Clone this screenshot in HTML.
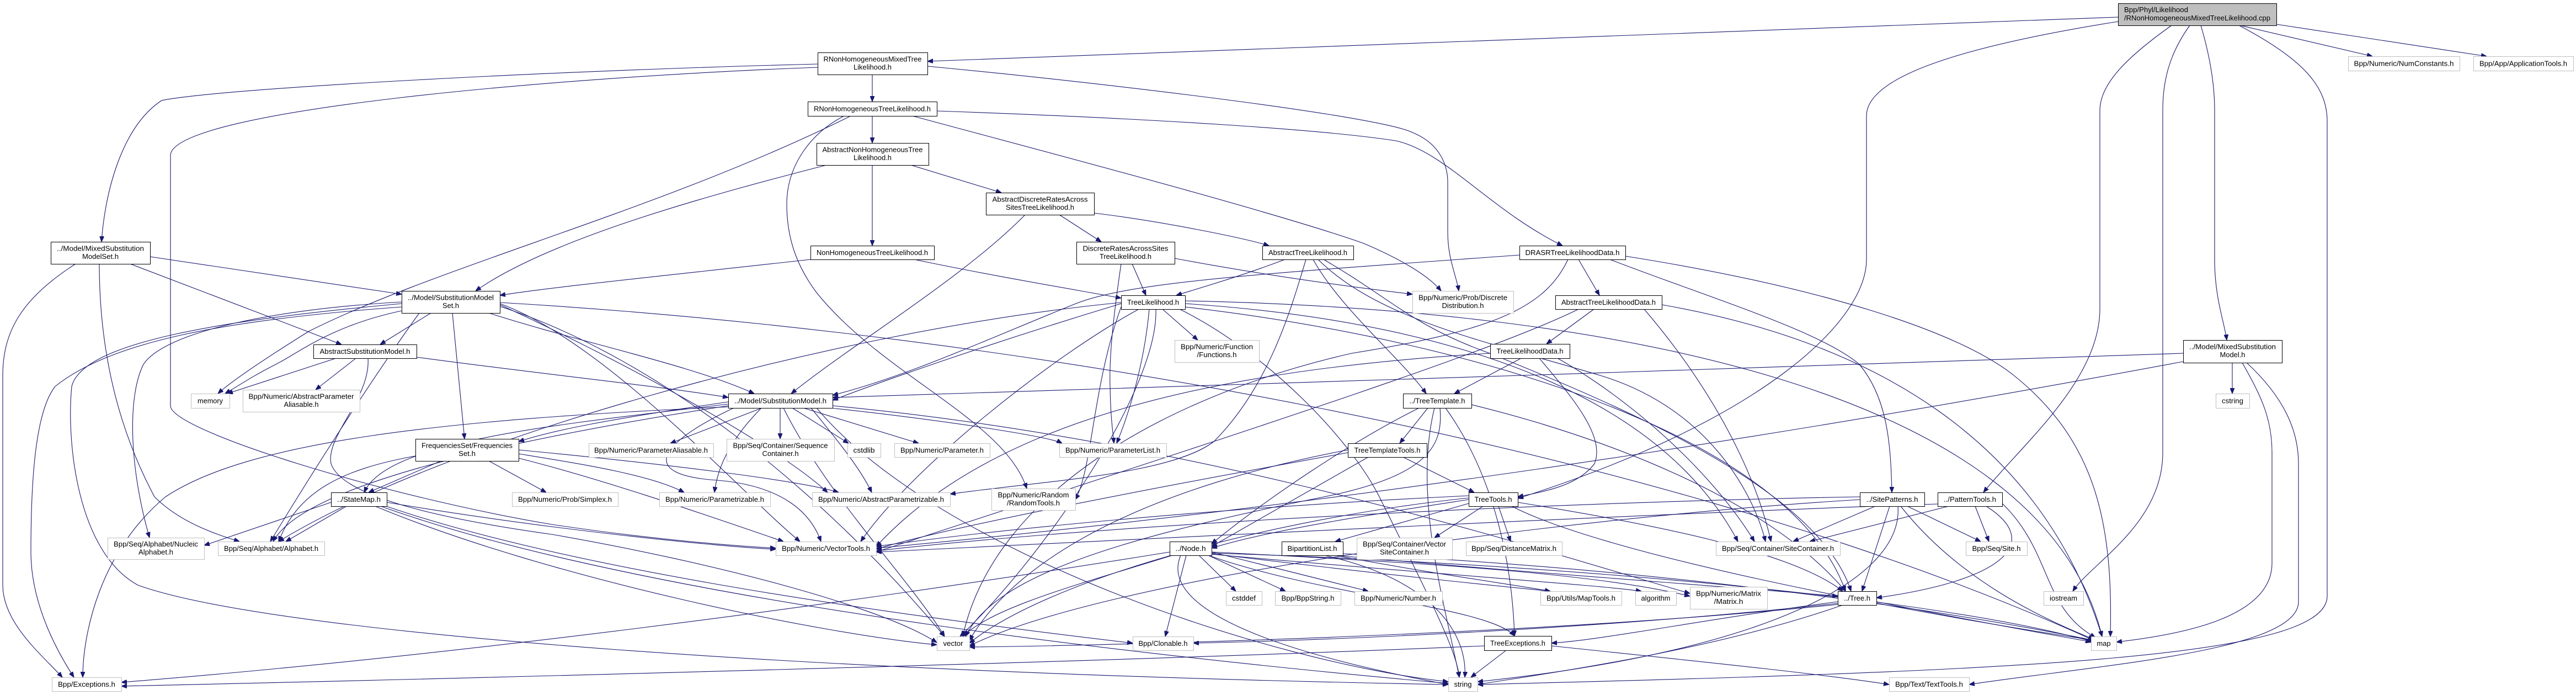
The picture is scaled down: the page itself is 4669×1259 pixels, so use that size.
<!DOCTYPE html>
<html>
<head>
<meta charset="utf-8">
<style>
html,body{margin:0;padding:0;background:#fff;}
svg{display:block;}
.n{fill:#fff;stroke:#000;stroke-width:1;}
.g{fill:#fff;stroke:#bfbfbf;stroke-width:1;}
.m{fill:#bfbfbf;stroke:#000;stroke-width:1;}
text{font-family:"Liberation Sans",Arial,sans-serif;font-size:13px;fill:#000;}
</style>
</head>
<body>
<svg width="4669" height="1259" viewBox="0 0 4669 1259" xmlns="http://www.w3.org/2000/svg">
<defs>
<marker id="ah" viewBox="0 0 10 8" refX="10" refY="4" markerWidth="10" markerHeight="8" markerUnits="userSpaceOnUse" orient="auto">
<path d="M0,0L10,4L0,8z" fill="#191970" stroke="#191970" stroke-width="1"/>
</marker>
</defs>
<g fill="none" stroke="#191970" stroke-width="1.1" marker-end="url(#ah)">
<!-- A main -->
<path d="M3839,31 C3200,55 2300,88 1681,111"/>
<path d="M3839,39 C3550,85 3383,140 3383,210 L3383,470 C3383,580 3200,760 2751,903"/>
<path d="M3936,46 C3860,100 3806,150 3806,200 L3806,560 C3806,690 3660,810 3595,892"/>
<path d="M3969,46 C3930,100 3920,150 3920,200 L3920,820 C3920,950 3790,1020 3757,1071"/>
<path d="M3989,46 C4005,100 4014,150 4014,200 L4014,470 C4014,540 4032,585 4036,616"/>
<path d="M4058,46 C4180,110 4218,160 4218,220 L4218,1080 C4218,1190 3700,1215 2678,1240"/>
<path d="M4060,46 L4300,102"/>
<path d="M4126,44 L4507,102"/>
<!-- O -->
<path d="M4046,657 L4046,713"/>
<path d="M4064,657 C4100,720 4118,760 4118,820 L4118,1020 C4118,1120 3950,1150 3836,1163"/>
<path d="M4072,657 C4140,720 4166,780 4166,840 L4166,1090 C4166,1180 3800,1205 3569,1240"/>
<path d="M3957,640 C3200,665 2200,700 1509,720"/>
<path d="M3957,655 C3500,740 2600,900 1588,993"/>
<!-- B -->
<path d="M1581,135 L1581,184"/>
<path d="M1482,116 C1000,128 400,160 293,182 C220,230 190,350 184,438"/>
<path d="M1482,122 C1000,140 320,200 309,280 L309,735 C309,780 700,900 1000,950 C1200,980 1350,990 1406,993"/>
<path d="M1681,120 C2000,150 2500,210 2560,240 C2610,260 2624,300 2624,330 L2624,420 C2624,470 2640,500 2644,527"/>
<!-- C -->
<path d="M1581,210 L1581,259"/>
<path d="M1542,210 C1200,380 800,480 560,600 C480,650 420,690 395,713"/>
<path d="M1698,201 C2100,215 2400,235 2530,255 C2620,275 2700,380 2832,445"/>
<path d="M1654,210 C1800,250 2300,380 2472,441 C2540,470 2590,500 2612,527"/>
<path d="M1530,210 C1470,240 1426,300 1426,370 C1426,440 1450,490 1480,530 C1600,680 1820,760 1861,885"/>
<!-- D -->
<path d="M1581,299 L1581,445"/>
<path d="M1651,299 L1815,349"/>
<path d="M1498,299 C1300,350 1000,430 862,527"/>
<!-- E -->
<path d="M1920,389 L1996,438"/>
<path d="M1858,389 C1750,500 1550,620 1434,713"/>
<path d="M1983,386 C2100,400 2250,430 2300,445"/>
<!-- F -->
<path d="M1469,470 C1200,500 1000,520 906,535"/>
<path d="M1657,470 C1800,500 1950,525 2032,540"/>
<!-- G -->
<path d="M2052,478 L2077,535"/>
<path d="M2032,478 C2020,560 2010,640 2012,700 C2013,760 2017,780 2019,803"/>
<path d="M2129,468 C2300,500 2450,520 2560,533"/>
<!-- H -->
<path d="M2329,470 C2250,500 2180,520 2132,535"/>
<path d="M2380,470 C2430,560 2540,650 2585,713"/>
<path d="M2367,470 C2340,560 2300,700 2200,800 C2120,860 1900,870 1722,895"/>
<path d="M2389,470 C2500,580 2700,620 2900,680 C3100,740 3180,900 3200,981"/>
<path d="M2399,470 C2520,540 2560,590 2700,640 C3000,760 3300,900 3355,1071"/>
<!-- I -->
<path d="M2861,470 L2899,535"/>
<path d="M2754,462 C2300,495 2050,510 1950,550 C1800,610 1650,680 1509,716"/>
<path d="M2918,470 C3100,540 3300,600 3370,660 C3420,720 3427,800 3429,892"/>
<path d="M2946,464 C3300,520 3550,600 3650,680 C3800,800 3830,950 3825,1153"/>
<path d="M2842,470 C2800,560 2700,600 2450,640 C2100,720 1800,900 1745,1153"/>
<!-- J -->
<path d="M272,465 L728,533"/>
<path d="M236,478 L619,624"/>
<path d="M137,478 C40,540 5,600 5,680 L5,1060 C5,1130 80,1190 113,1227"/>
<path d="M180,478 C180,600 200,750 280,900 C330,950 400,970 434,981"/>
<!-- K -->
<path d="M781,567 L689,624"/>
<path d="M728,563 C600,590 540,640 500,660 C460,680 430,700 408,713"/>
<path d="M820,567 L842,795"/>
<path d="M886,567 C1050,620 1250,660 1367,713"/>
<path d="M728,547 C500,560 300,600 260,660 C230,720 235,850 271,974"/>
<path d="M728,550 C400,580 150,620 130,700 C120,800 140,1000 250,1060 C500,1150 1500,1220 2625,1240"/>
<path d="M760,567 C700,650 600,800 490,981"/>
<path d="M728,556 C400,580 200,620 100,700 C60,750 56,900 56,1000 C56,1100 110,1190 134,1227"/>
<path d="M906,550 C1100,620 1350,900 1450,981"/>
<path d="M906,555 C1200,650 1500,900 1712,1153"/>
<path d="M906,548 C1800,600 3000,800 3795,1160"/>
<path d="M906,552 C1100,640 1400,800 1500,892"/>
<!-- L -->
<path d="M2032,550 C1800,620 1600,690 1509,725"/>
<path d="M2083,560 C2075,650 2050,740 2024,803"/>
<path d="M2107,560 L2171,616"/>
<path d="M2148,550 C2600,580 3000,700 3150,981"/>
<path d="M2148,556 C2700,620 3250,800 3345,1071"/>
<path d="M2148,545 C2900,560 3700,700 3810,1153"/>
<path d="M2032,548 C1500,600 800,800 505,981"/>
<path d="M2064,560 C1900,650 1650,850 1560,981"/>
<path d="M2095,560 C2100,700 1900,1000 1740,1153"/>
<path d="M2138,560 C2300,640 2450,800 2500,900 C2600,1100 2640,1180 2645,1227"/>
<path d="M2032,556 C1980,700 1980,850 1949,905"/>
<!-- N -->
<path d="M2889,560 L2803,623"/>
<path d="M2861,560 C2700,640 2200,800 1588,1000"/>
<path d="M3012,552 C3400,620 3700,800 3810,1153"/>
<path d="M2980,560 C3100,700 3180,850 3210,981"/>
<!-- P -->
<path d="M609,649 L412,713"/>
<path d="M645,649 L572,706"/>
<path d="M755,647 C1000,680 1200,700 1320,720"/>
<path d="M667,649 C672,720 590,790 600,840 C620,900 800,940 1000,968 C1300,1020 1600,1100 1698,1164"/>
<!-- R -->
<path d="M2757,649 L2636,713"/>
<path d="M2790,649 C2850,720 2910,790 2890,840 C2860,880 2800,890 2751,900"/>
<path d="M2701,640 C2200,670 1800,760 1588,990"/>
<path d="M2823,649 C2950,720 3100,850 3180,981"/>
<!-- V -->
<path d="M2588,739 L2537,803"/>
<path d="M2572,739 C2450,800 2300,900 2196,985"/>
<path d="M2610,739 C2615,800 2600,860 2400,900 C2000,980 1800,1050 1750,1153"/>
<path d="M2667,733 C2900,790 3200,900 3345,1071"/>
<path d="M2620,739 C2700,850 2740,1000 2745,1152"/>
<path d="M2600,739 C2560,900 2620,1100 2645,1227"/>
<!-- X -->
<path d="M799,835 L668,892"/>
<path d="M886,835 L990,892"/>
<path d="M753,826 C620,850 540,890 505,981"/>
<path d="M940,830 C1100,870 1300,940 1420,981"/>
<path d="M940,822 C1050,840 1180,860 1240,892"/>
<path d="M940,815 C1200,840 1450,870 1520,892"/>
<!-- AD -->
<path d="M2480,828 L2196,990"/>
<path d="M2543,828 L2672,892"/>
<path d="M2443,815 C2100,880 1850,1000 1757,1160"/>
<path d="M2443,820 C2000,900 1700,960 1588,995"/>
<!-- AE -->
<path d="M600,910 L370,988"/>
<path d="M628,917 L518,981"/>
<path d="M700,917 C1000,1020 1500,1100 2053,1165"/>
<path d="M690,917 C1200,1100 2200,1200 2625,1238"/>
<path d="M680,917 C1000,1050 1500,1150 1698,1168"/>
<path d="M701,910 C1000,960 1300,990 1406,995"/>
<!-- AJ -->
<path d="M2662,912 L2420,981"/>
<path d="M2688,917 L2600,974"/>
<path d="M2716,917 L2738,981"/>
<path d="M2662,905 C2500,930 2300,960 2196,993"/>
<path d="M2751,910 C3000,950 3250,1000 3340,1071"/>
<path d="M2740,917 C2900,1000 3400,1100 3795,1160"/>
<path d="M2662,902 C2300,940 1900,1050 1757,1165"/>
<path d="M2662,898 C2200,920 1800,960 1588,990"/>
<!-- AK -->
<path d="M3399,917 L3250,981"/>
<path d="M3425,917 L3375,1071"/>
<path d="M3457,917 L3590,981"/>
<path d="M3445,917 C3550,1050 3700,1120 3795,1158"/>
<path d="M3440,917 C3450,1050 3200,1180 2678,1235"/>
<path d="M3371,900 C2800,910 2000,950 1588,998"/>
<path d="M3371,905 C2800,940 2000,1050 1757,1170"/>
<!-- AL -->
<path d="M3532,917 L3280,981"/>
<path d="M3580,917 L3605,981"/>
<path d="M3600,917 C3700,980 3640,1050 3401,1083"/>
<path d="M3629,912 C3720,1000 3700,1100 3798,1155"/>
<path d="M3512,913 C3000,930 2000,980 1588,1000"/>
<!-- AP -->
<path d="M2173,1006 L2240,1071"/>
<path d="M2190,1006 L2330,1071"/>
<path d="M2196,1000 L2480,1071"/>
<path d="M2196,1003 C2500,1040 2700,1060 2810,1071"/>
<path d="M2196,1004 C2600,1040 2900,1060 2975,1071"/>
<path d="M2150,1006 L2112,1153"/>
<path d="M2190,1006 C2400,1080 2700,1100 2745,1152"/>
<path d="M2140,1006 C2100,1100 2300,1180 2625,1240"/>
<path d="M2125,1006 C1950,1060 1800,1100 1745,1153"/>
<path d="M2196,1002 C2800,1020 3500,1080 3795,1163"/>
<path d="M2196,1000 C2600,1020 2900,1040 3063,1080"/>
<path d="M2120,1000 C1500,1100 800,1190 220,1236"/>
<!-- AQ -->
<path d="M2420,1006 C2800,1040 3100,1060 3331,1080"/>
<path d="M2420,1006 C2600,1040 2750,1060 2810,1071"/>
<path d="M2400,1006 C2600,1050 2660,1150 2655,1227"/>
<path d="M2434,1003 C3000,1030 3500,1100 3795,1160"/>
<!-- BB -->
<path d="M3331,1090 C3100,1120 2900,1160 2812,1165"/>
<path d="M3331,1093 C2900,1140 2400,1160 2163,1165"/>
<path d="M3340,1096 C3100,1180 2800,1220 2678,1240"/>
<path d="M3401,1090 C3600,1130 3750,1155 3790,1163"/>
<path d="M3331,1095 C2800,1150 2000,1170 1757,1172"/>
<!-- BF -->
<path d="M2730,1178 L2666,1227"/>
<path d="M2690,1170 C2000,1200 800,1230 220,1243"/>
<path d="M2812,1170 C3000,1190 3300,1220 3424,1240"/>
<!-- U -->
<path d="M1381,739 L1215,803"/>
<path d="M1414,739 L1414,795"/>
<path d="M1436,739 L1538,803"/>
<path d="M1456,739 L1665,803"/>
<path d="M1505,739 C1700,760 1900,790 1925,803"/>
<path d="M1320,728 C1100,760 1000,780 940,800"/>
<path d="M1320,732 C1000,770 700,800 660,892"/>
<path d="M1320,735 C900,800 550,880 495,981"/>
<path d="M1320,737 C800,760 450,800 300,900 C180,1000 150,1150 150,1227"/>
<path d="M1330,739 C1200,800 1150,860 1300,870 C1420,880 1470,930 1488,981"/>
<path d="M1420,739 C1500,900 1650,1050 1712,1153"/>
<path d="M1509,735 C2200,800 2800,1000 3063,1075"/>
<path d="M1380,739 C1320,800 1300,850 1295,892"/>
<path d="M1470,739 C1520,800 1560,850 1580,892"/>
<path d="M1480,739 C1700,1000 2300,1200 2625,1235"/>
</g>

<!-- NODES -->
<g text-anchor="middle">
<rect class="m" x="3839.5" y="6.5" width="287" height="40"/>
<text x="3850" y="22" text-anchor="start" textLength="116" lengthAdjust="spacingAndGlyphs">Bpp/Phyl/Likelihood</text>
<text x="3850" y="37" text-anchor="start" textLength="265" lengthAdjust="spacingAndGlyphs">/RNonHomogeneousMixedTreeLikelihood.cpp</text>

<rect class="n" x="1482.5" y="95.5" width="199" height="40"/>
<text x="1581.5" y="111.5" textLength="178" lengthAdjust="spacingAndGlyphs">RNonHomogeneousMixedTree</text>
<text x="1581.5" y="126" textLength="69" lengthAdjust="spacingAndGlyphs">Likelihood.h</text>

<rect class="n" x="1464.5" y="184.5" width="234" height="26"/>
<text x="1581" y="201.5" textLength="212" lengthAdjust="spacingAndGlyphs">RNonHomogeneousTreeLikelihood.h</text>

<rect class="n" x="1480.5" y="259.5" width="203" height="40"/>
<text x="1581.5" y="275.5" textLength="182" lengthAdjust="spacingAndGlyphs">AbstractNonHomogeneousTree</text>
<text x="1581.5" y="290" textLength="69" lengthAdjust="spacingAndGlyphs">Likelihood.h</text>

<rect class="n" x="1787.5" y="349.5" width="196" height="40"/>
<text x="1885" y="365.5" textLength="173" lengthAdjust="spacingAndGlyphs">AbstractDiscreteRatesAcross</text>
<text x="1885" y="380" textLength="124" lengthAdjust="spacingAndGlyphs">SitesTreeLikelihood.h</text>

<rect class="n" x="1469.5" y="445.5" width="224" height="25"/>
<text x="1581" y="462" textLength="202" lengthAdjust="spacingAndGlyphs">NonHomogeneousTreeLikelihood.h</text>

<rect class="n" x="1951.5" y="438.5" width="178" height="40"/>
<text x="2040" y="454.5" textLength="155" lengthAdjust="spacingAndGlyphs">DiscreteRatesAcrossSites</text>
<text x="2040" y="469" textLength="94" lengthAdjust="spacingAndGlyphs">TreeLikelihood.h</text>

<rect class="n" x="2288.5" y="445.5" width="165" height="25"/>
<text x="2370.5" y="462" textLength="143" lengthAdjust="spacingAndGlyphs">AbstractTreeLikelihood.h</text>

<rect class="n" x="2754.5" y="445.5" width="192" height="25"/>
<text x="2850" y="462" textLength="171" lengthAdjust="spacingAndGlyphs">DRASRTreeLikelihoodData.h</text>

<rect class="n" x="92.5" y="438.5" width="180" height="40"/>
<text x="182" y="454.5" textLength="158" lengthAdjust="spacingAndGlyphs">../Model/MixedSubstitution</text>
<text x="182" y="469" textLength="66" lengthAdjust="spacingAndGlyphs">ModelSet.h</text>

<rect class="n" x="728.5" y="527.5" width="178" height="40"/>
<text x="817" y="543.5" textLength="156" lengthAdjust="spacingAndGlyphs">../Model/SubstitutionModel</text>
<text x="817" y="558" textLength="30" lengthAdjust="spacingAndGlyphs">Set.h</text>

<rect class="n" x="2032.5" y="535.5" width="116" height="25"/>
<text x="2090" y="552" textLength="94" lengthAdjust="spacingAndGlyphs">TreeLikelihood.h</text>

<rect class="g" x="2560.5" y="527.5" width="183" height="40"/>
<text x="2651.5" y="543.5" textLength="161" lengthAdjust="spacingAndGlyphs">Bpp/Numeric/Prob/Discrete</text>
<text x="2651.5" y="558" textLength="76" lengthAdjust="spacingAndGlyphs">Distribution.h</text>

<rect class="n" x="2819.5" y="535.5" width="193" height="25"/>
<text x="2915.5" y="552" textLength="171" lengthAdjust="spacingAndGlyphs">AbstractTreeLikelihoodData.h</text>

<rect class="n" x="3957.5" y="616.5" width="179" height="41"/>
<text x="4046.5" y="632.5" textLength="157" lengthAdjust="spacingAndGlyphs">../Model/MixedSubstitution</text>
<text x="4046.5" y="647" textLength="46" lengthAdjust="spacingAndGlyphs">Model.h</text>

<rect class="n" x="568.5" y="624.5" width="187" height="25"/>
<text x="661.5" y="641" textLength="164" lengthAdjust="spacingAndGlyphs">AbstractSubstitutionModel.h</text>

<rect class="g" x="2129.5" y="616.5" width="153" height="40"/>
<text x="2205.5" y="632.5" textLength="131" lengthAdjust="spacingAndGlyphs">Bpp/Numeric/Function</text>
<text x="2205.5" y="647" textLength="72" lengthAdjust="spacingAndGlyphs">/Functions.h</text>

<rect class="n" x="2701.5" y="623.5" width="144" height="26"/>
<text x="2773" y="640.5" textLength="121" lengthAdjust="spacingAndGlyphs">TreeLikelihoodData.h</text>

<rect class="g" x="346.5" y="713.5" width="70" height="26"/>
<text x="381" y="730.5" textLength="46" lengthAdjust="spacingAndGlyphs">memory</text>

<rect class="g" x="440.5" y="706.5" width="212" height="40"/>
<text x="546" y="722.5" textLength="191" lengthAdjust="spacingAndGlyphs">Bpp/Numeric/AbstractParameter</text>
<text x="546" y="737" textLength="63" lengthAdjust="spacingAndGlyphs">Aliasable.h</text>

<rect class="n" x="1320.5" y="713.5" width="189" height="26"/>
<text x="1414.5" y="730.5" textLength="167" lengthAdjust="spacingAndGlyphs">../Model/SubstitutionModel.h</text>

<rect class="n" x="2543.5" y="713.5" width="124" height="26"/>
<text x="2605" y="730.5" textLength="101" lengthAdjust="spacingAndGlyphs">../TreeTemplate.h</text>

<rect class="g" x="4016.5" y="713.5" width="61" height="26"/>
<text x="4046.5" y="730.5" textLength="39" lengthAdjust="spacingAndGlyphs">cstring</text>

<rect class="n" x="753.5" y="795.5" width="187" height="40"/>
<text x="846.5" y="811.5" textLength="165" lengthAdjust="spacingAndGlyphs">FrequenciesSet/Frequencies</text>
<text x="846.5" y="826" textLength="31" lengthAdjust="spacingAndGlyphs">Set.h</text>

<rect class="g" x="1067.5" y="803.5" width="226" height="25"/>
<text x="1180" y="820" textLength="206" lengthAdjust="spacingAndGlyphs">Bpp/Numeric/ParameterAliasable.h</text>

<rect class="g" x="1317.5" y="795.5" width="195" height="40"/>
<text x="1414.5" y="811.5" textLength="172" lengthAdjust="spacingAndGlyphs">Bpp/Seq/Container/Sequence</text>
<text x="1414.5" y="826" textLength="66" lengthAdjust="spacingAndGlyphs">Container.h</text>

<rect class="g" x="1536.5" y="803.5" width="60" height="25"/>
<text x="1566" y="820" textLength="39" lengthAdjust="spacingAndGlyphs">cstdlib</text>

<rect class="g" x="1621.5" y="803.5" width="173" height="25"/>
<text x="1707.5" y="820" textLength="151" lengthAdjust="spacingAndGlyphs">Bpp/Numeric/Parameter.h</text>

<rect class="g" x="1920.5" y="803.5" width="194" height="25"/>
<text x="2017" y="820" textLength="172" lengthAdjust="spacingAndGlyphs">Bpp/Numeric/ParameterList.h</text>

<rect class="n" x="2443.5" y="803.5" width="143" height="25"/>
<text x="2514.5" y="820" textLength="120" lengthAdjust="spacingAndGlyphs">TreeTemplateTools.h</text>

<rect class="n" x="600.5" y="892.5" width="101" height="25"/>
<text x="650.5" y="909" textLength="79" lengthAdjust="spacingAndGlyphs">../StateMap.h</text>

<rect class="g" x="928.5" y="892.5" width="192" height="25"/>
<text x="1024" y="909" textLength="170" lengthAdjust="spacingAndGlyphs">Bpp/Numeric/Prob/Simplex.h</text>

<rect class="g" x="1195.5" y="892.5" width="201" height="25"/>
<text x="1295.5" y="909" textLength="179" lengthAdjust="spacingAndGlyphs">Bpp/Numeric/Parametrizable.h</text>

<rect class="g" x="1472.5" y="892.5" width="250" height="25"/>
<text x="1597" y="909" textLength="228" lengthAdjust="spacingAndGlyphs">Bpp/Numeric/AbstractParametrizable.h</text>

<rect class="g" x="1797.5" y="885.5" width="152" height="39"/>
<text x="1873" y="901" textLength="129" lengthAdjust="spacingAndGlyphs">Bpp/Numeric/Random</text>
<text x="1873" y="915.5" textLength="96" lengthAdjust="spacingAndGlyphs">/RandomTools.h</text>

<rect class="n" x="2662.5" y="892.5" width="89" height="25"/>
<text x="2706.5" y="909" textLength="68" lengthAdjust="spacingAndGlyphs">TreeTools.h</text>

<rect class="n" x="3371.5" y="892.5" width="117" height="25"/>
<text x="3429.5" y="909" textLength="94" lengthAdjust="spacingAndGlyphs">../SitePatterns.h</text>

<rect class="n" x="3512.5" y="892.5" width="117" height="25"/>
<text x="3570.5" y="909" textLength="95" lengthAdjust="spacingAndGlyphs">../PatternTools.h</text>

<rect class="g" x="195.5" y="974.5" width="175" height="39"/>
<text x="282.5" y="990" textLength="153" lengthAdjust="spacingAndGlyphs">Bpp/Seq/Alphabet/Nucleic</text>
<text x="282.5" y="1004.5" textLength="63" lengthAdjust="spacingAndGlyphs">Alphabet.h</text>

<rect class="g" x="395.5" y="981.5" width="193" height="25"/>
<text x="491.5" y="998" textLength="171" lengthAdjust="spacingAndGlyphs">Bpp/Seq/Alphabet/Alphabet.h</text>

<rect class="g" x="1406.5" y="981.5" width="182" height="25"/>
<text x="1497" y="998" textLength="160" lengthAdjust="spacingAndGlyphs">Bpp/Numeric/VectorTools.h</text>

<rect class="n" x="2120.5" y="981.5" width="76" height="25"/>
<text x="2158" y="998" textLength="55" lengthAdjust="spacingAndGlyphs">../Node.h</text>

<rect class="n" x="2323.5" y="981.5" width="111" height="25"/>
<text x="2378.5" y="998" textLength="90" lengthAdjust="spacingAndGlyphs">BipartitionList.h</text>

<rect class="g" x="2459.5" y="974.5" width="173" height="39"/>
<text x="2545.5" y="990" textLength="151" lengthAdjust="spacingAndGlyphs">Bpp/Seq/Container/Vector</text>
<text x="2545.5" y="1004.5" textLength="89" lengthAdjust="spacingAndGlyphs">SiteContainer.h</text>

<rect class="g" x="2657.5" y="981.5" width="174" height="25"/>
<text x="2744" y="998" textLength="154" lengthAdjust="spacingAndGlyphs">Bpp/Seq/DistanceMatrix.h</text>

<rect class="g" x="3110.5" y="981.5" width="225" height="25"/>
<text x="3222.5" y="998" textLength="203" lengthAdjust="spacingAndGlyphs">Bpp/Seq/Container/SiteContainer.h</text>

<rect class="g" x="3563.5" y="981.5" width="111" height="25"/>
<text x="3618.5" y="998" textLength="88" lengthAdjust="spacingAndGlyphs">Bpp/Seq/Site.h</text>

<rect class="g" x="2222.5" y="1071.5" width="65" height="25"/>
<text x="2254.5" y="1088" textLength="43" lengthAdjust="spacingAndGlyphs">cstddef</text>

<rect class="g" x="2311.5" y="1071.5" width="119" height="25"/>
<text x="2370.5" y="1088" textLength="96" lengthAdjust="spacingAndGlyphs">Bpp/BppString.h</text>

<rect class="g" x="2455.5" y="1071.5" width="159" height="25"/>
<text x="2534.5" y="1088" textLength="137" lengthAdjust="spacingAndGlyphs">Bpp/Numeric/Number.h</text>

<rect class="g" x="2792.5" y="1071.5" width="147" height="25"/>
<text x="2865.5" y="1088" textLength="125" lengthAdjust="spacingAndGlyphs">Bpp/Utils/MapTools.h</text>

<rect class="g" x="2964.5" y="1071.5" width="74" height="25"/>
<text x="3001" y="1088" textLength="53" lengthAdjust="spacingAndGlyphs">algorithm</text>

<rect class="g" x="3063.5" y="1063.5" width="140" height="40"/>
<text x="3133" y="1079.5" textLength="118" lengthAdjust="spacingAndGlyphs">Bpp/Numeric/Matrix</text>
<text x="3133" y="1094" textLength="53" lengthAdjust="spacingAndGlyphs">/Matrix.h</text>

<rect class="n" x="3331.5" y="1071.5" width="70" height="25"/>
<text x="3366" y="1088" textLength="48" lengthAdjust="spacingAndGlyphs">../Tree.h</text>

<rect class="g" x="3704.5" y="1071.5" width="72" height="25"/>
<text x="3740" y="1088" textLength="50" lengthAdjust="spacingAndGlyphs">iostream</text>

<rect class="g" x="1698.5" y="1153.5" width="59" height="25"/>
<text x="1727.5" y="1170" textLength="36" lengthAdjust="spacingAndGlyphs">vector</text>

<rect class="g" x="2053.5" y="1153.5" width="110" height="25"/>
<text x="2108" y="1170" textLength="89" lengthAdjust="spacingAndGlyphs">Bpp/Clonable.h</text>

<rect class="n" x="2690.5" y="1152.5" width="122" height="26"/>
<text x="2751" y="1169.5" textLength="100" lengthAdjust="spacingAndGlyphs">TreeExceptions.h</text>

<rect class="g" x="3790.5" y="1153.5" width="46" height="25"/>
<text x="3813" y="1170" textLength="25" lengthAdjust="spacingAndGlyphs">map</text>

<rect class="g" x="94.5" y="1227.5" width="126" height="25"/>
<text x="157" y="1244" textLength="104" lengthAdjust="spacingAndGlyphs">Bpp/Exceptions.h</text>

<rect class="g" x="2625.5" y="1227.5" width="53" height="25"/>
<text x="2651.5" y="1244" textLength="32" lengthAdjust="spacingAndGlyphs">string</text>

<rect class="g" x="3424.5" y="1227.5" width="145" height="25"/>
<text x="3496.5" y="1244" textLength="123" lengthAdjust="spacingAndGlyphs">Bpp/Text/TextTools.h</text>

<rect class="g" x="4256.5" y="102.5" width="202" height="26"/>
<text x="4357" y="119.5" textLength="181" lengthAdjust="spacingAndGlyphs">Bpp/Numeric/NumConstants.h</text>

<rect class="g" x="4483.5" y="102.5" width="181" height="26"/>
<text x="4573.5" y="119.5" textLength="159" lengthAdjust="spacingAndGlyphs">Bpp/App/ApplicationTools.h</text>
</g>
</svg>
</body>
</html>
